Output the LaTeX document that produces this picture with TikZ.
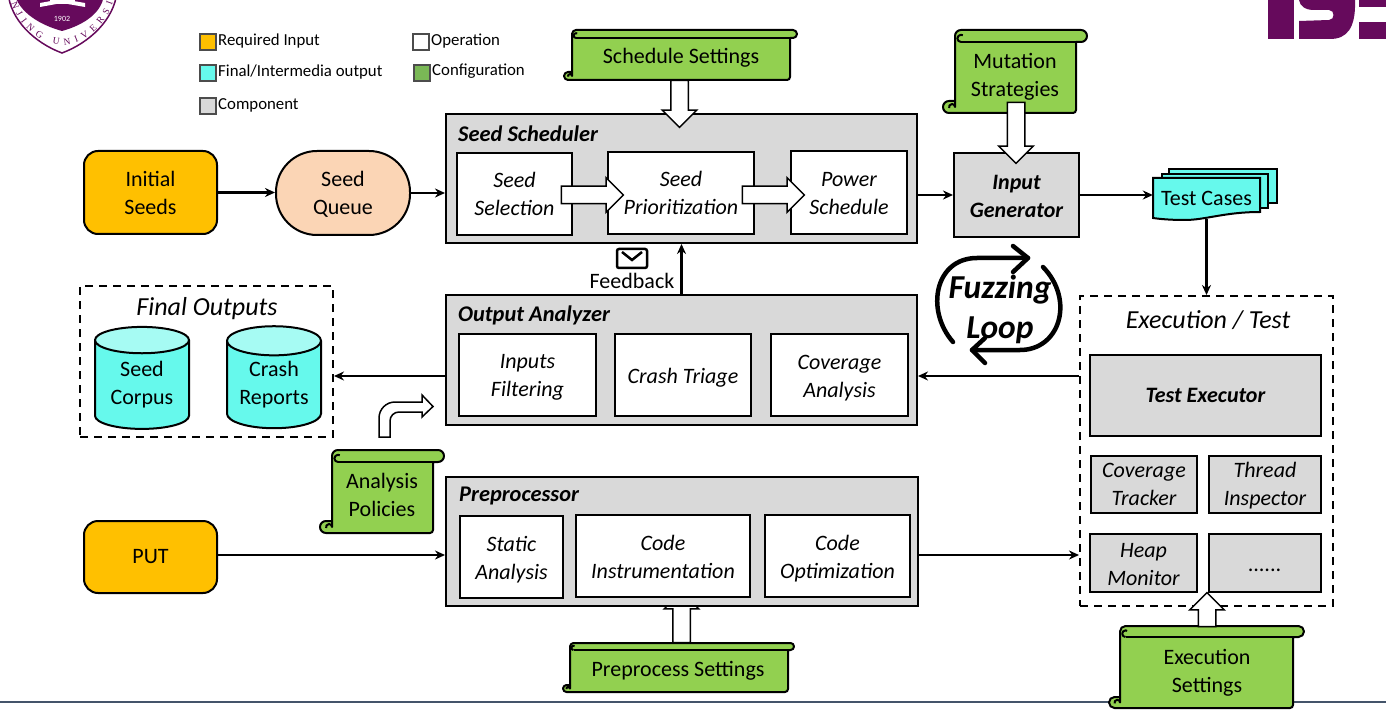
\documentclass[tikz,border=0pt]{standalone}
\usepackage{fontspec}
\setmainfont{Carlito}
\newfontfamily\crestfont{Liberation Serif}
\usetikzlibrary{shapes.geometric, shapes.arrows, arrows.meta, calc, decorations.text}

\definecolor{reqorange}{HTML}{FFC000}
\definecolor{outcyan}{HTML}{66F9EC}
\definecolor{endcyan}{HTML}{A6FBF3}
\definecolor{compgray}{HTML}{D9D9D9}
\definecolor{confgreen}{HTML}{92D050}
\definecolor{legendgreen}{HTML}{7AB856}
\definecolor{queuepeach}{HTML}{FBD5B5}
\definecolor{crest}{HTML}{660A5C}
\definecolor{footline}{HTML}{44546A}

\newcommand{\lab}{\fontsize{22}{28}\selectfont}
\newcommand{\dn}[1]{\rule{0pt}{#1pt}}
\tikzset{
  inputbox/.style={draw, line width=2pt, fill=reqorange, rounded corners=14pt, inner sep=0pt, align=center, font=\lab},
  compbox/.style={draw, line width=2pt, fill=compgray, inner sep=0pt, align=center, font=\lab\bfseries\itshape},
  opbox/.style={draw, line width=2pt, fill=white, inner sep=0pt, align=center, font=\lab\itshape},
  dashbox/.style={draw, line width=2pt, dash pattern=on 8pt off 6pt, inner sep=0pt},
  titlelab/.style={anchor=west, inner sep=0pt, font=\fontsize{22.4}{24}\selectfont\bfseries\itshape},
  biglab/.style={inner sep=0pt, font=\fontsize{26}{30}\selectfont\itshape},
  plainlab/.style={inner sep=0pt, align=center, font=\lab},
  dataflow/.style={line width=2.4pt, -{Stealth[length=10pt, width=9pt]}},
  blockarr/.style={draw, line width=1.5pt, fill=white, single arrow, single arrow head indent=0pt, inner xsep=0pt, inner ysep=8pt, outer sep=0pt, single arrow head extend=8.5pt},
  blockarrup/.style={blockarr, inner xsep=8pt, inner ysep=0pt},
  storage/.style={draw, line width=2pt, cylinder, shape border rotate=90, aspect=0.42, cylinder uses custom fill, cylinder body fill=outcyan, cylinder end fill=endcyan, minimum width=94pt, minimum height=102pt, inner sep=0pt, align=center, font=\lab},
  legendtag/.style={draw=black!70, line width=1.5pt, minimum size=16pt, inner sep=0pt},
  legendlab/.style={anchor=west, inner sep=0pt, font=\fontsize{16.8}{18}\selectfont},
  loopline/.style={line width=4.5pt, line cap=round, line join=round},
  scrollline/.style={line width=2pt, line join=round},
}

% x left, y top, x right, y bottom, roll height, roll right end
\newcommand{\confscroll}[6]{
  \pgfmathsetmacro{\rr}{#5/2}
  \pgfmathsetmacro{\cx}{#1-\rr}
  \filldraw[scrollline, fill=confgreen] ({#1+\rr},#2) -- ({#6-\rr},#2) arc (-90:90:\rr) -- (#3,{#2+#5}) -- (#3,{#4-3}) arc (0:90:3) -- (\cx,#4) arc (90:270:\rr) -- (#1,{#4-#5}) -- (#1,{#2+\rr}) arc (180:270:\rr) -- cycle;
  \draw[scrollline] ({#1+\rr},{#2+#5}) -- (#3,{#2+#5});
  \draw[scrollline] ({#1+\rr},{#2+#5}) arc (90:300:{\rr*0.6});
  \draw[scrollline] (#1,{#4-#5}) -- (#1,{#4-\rr}) arc (0:-200:{\rr*0.5});
}

\begin{document}
\begin{tikzpicture}[x=1pt, y=-1pt]
  \clip (0,0) rectangle (1386,711);
  \fill[white] (0,0) rectangle (1386,711);

  % crest and logo, cut by the page
  \filldraw[draw=crest, line width=1.5pt, fill=white] (8,-8) .. controls (10,20) and (35,43) .. (62,53) .. controls (89,43) and (114,20) .. (117,-8) -- cycle;
  \fill[crest] (14,-8) .. controls (18,12) and (40,25) .. (62,31) .. controls (84,25) and (104,12) .. (104,-8) -- cycle;
  \fill[white] (40,7) -- (62,3) -- (85,7) -- (85,3) -- (62,-1) -- (40,3) -- cycle;
  \fill[white] (50,0) rectangle (75,4);
  \node[inner sep=0pt, text=white, font=\fontsize{8}{9}\selectfont] (crestyear) at (62,19) {1902};
  \path[decorate, decoration={text along path, text color=crest, text align={fit to path}, text={|\crestfont\fontsize{9.5}{10}\selectfont|NJING UNIVERSI}}] (11,3) .. controls (20,28) and (42,45) .. (62,45) .. controls (80,45) and (104,30) .. (113,3);

  \fill[crest] (1268,0) rectangle (1294,39);
  \fill[crest] (1299,0) .. controls (1300,6) and (1305,10) .. (1314,10) -- (1329,10) .. controls (1335,10) and (1335,20) .. (1329,20) -- (1299,21) -- (1299,39) -- (1330,39) .. controls (1347,39) and (1356,28) .. (1355,0) -- cycle;
  \fill[crest] (1359,0) rectangle (1386,7);
  \fill[crest] (1359,22) rectangle (1386,39);

  \draw[footline, line width=2.5pt] (0,702) -- (1386,702);

  % legend
  \foreach \px/\py/\ty/\tagcol/\tagtext/\tagname in {
      208/42/41/reqorange/{Required Input}/req,
      208/73/72/outcyan/{Final/Intermedia output}/out,
      208/106/105/compgray/{Component}/comp,
      421/42/41/white/{Operation}/op,
      422/73/71/legendgreen/{Configuration}/conf}{
    \node[legendtag, fill=\tagcol] (tag\tagname) at (\px,\py) {};
    \node[legendlab] (lab\tagname) at (\px+10,\ty) {\tagtext};
  }

  % top row
  \node[inputbox, minimum width=133pt, minimum height=83pt] (nInit) at (150.5,192.5) {Initial\\Seeds};
  \node[draw, line width=2pt, fill=queuepeach, rounded corners=41pt, minimum width=134pt, minimum height=84pt, inner sep=0pt, align=center, font=\lab] (nQueue) at (343,193) {\dn{18}Seed\\Queue};
  \node[compbox, minimum width=471pt, minimum height=129pt] (nSched) at (681.5,178.5) {};
  \node[titlelab] (tSched) at (458,133.5) {Seed Scheduler};
  \node[opbox, minimum width=115pt, minimum height=82pt] (nSelect) at (514.5,194) {Seed\\Selection};
  \node[opbox, minimum width=146pt, minimum height=82pt] (nPrior) at (681,193) {Seed\\Prioritization};
  \node[opbox, minimum width=116pt, minimum height=83pt] (nPower) at (849,192.5) {\dn{17}Power\\Schedule};
  \node[compbox, minimum width=125pt, minimum height=84pt] (nInput) at (1016.5,195) {\dn{18}Input\\Generator};

  \confscroll{572}{30}{790}{80}{8}{797}
  \node[plainlab] (nSchedSet) at (681,58) {Schedule Settings};
  \confscroll{955}{30}{1076}{113}{12}{1087}
  \node[plainlab] (nMutate) at (1015,77) {Mutation\\Strategies};

  \node[blockarrup, shape border rotate=270, minimum height=47pt] (aSchedSet) at (679.5,99.5) {};
  \node[blockarrup, shape border rotate=270, minimum height=61pt] (aMutate) at (1016,128.5) {};
  \node[blockarr, minimum height=62pt] (aSelect) at (588,195) {};
  \node[blockarr, minimum height=62pt] (aPrior) at (769,195) {};

  % test cases
  \filldraw[line width=2pt, fill=outcyan] (1169,203) -- (1169,169) -- (1277,169) -- (1277,203) -- cycle;
  \filldraw[line width=2pt, fill=outcyan] (1162,208) -- (1162,174) -- (1268,174) -- (1268,208) -- cycle;
  \filldraw[line width=2pt, fill=outcyan] (1153,218) -- (1153,178) -- (1260,178) -- (1260,212) .. controls (1225,212) and (1205,220) .. (1185,220) .. controls (1170,220) and (1160,219) .. (1153,218) -- cycle;
  \node[inner sep=0pt, minimum width=107pt, minimum height=41pt, font=\lab] (nCases) at (1206.5,198.5) {Test Cases};

  % middle row
  \node[dashbox, minimum width=253pt, minimum height=151pt] (nFinal) at (206.5,361.5) {};
  \node[biglab] (tFinal) at (207,309) {Final Outputs};
  \node[storage] (nCorpus) at (142,385) {Seed\\Corpus};
  \node[storage] (nCrash) at (274,385) {Crash\\Reports};

  \node[compbox, minimum width=471pt, minimum height=130pt] (nAnal) at (681.5,360) {};
  \node[titlelab] (tAnal) at (458,315) {Output Analyzer};
  \node[opbox, minimum width=137pt, minimum height=82pt] (nFilter) at (527.5,375) {\dn{19}Inputs\\Filtering};
  \node[opbox, minimum width=136pt, minimum height=82pt] (nTriage) at (683,375) {\dn{20}Crash Triage};
  \node[opbox, minimum width=137pt, minimum height=82pt] (nCover) at (839.5,375) {\dn{21}Coverage\\Analysis};

  \node[dashbox, minimum width=253pt, minimum height=310pt] (nExec) at (1206.5,451) {};
  \node[biglab] (tExec) at (1208,320) {Execution / Test};
  \node[compbox, minimum width=231pt, minimum height=81pt] (nTest) at (1205.5,395.5) {Test Executor};
  \node[compbox, font=\lab\itshape, minimum width=106pt, minimum height=57pt] (nTrack) at (1144,484.5) {Coverage\\Tracker};
  \node[compbox, font=\lab\itshape, minimum width=112pt, minimum height=57pt] (nThread) at (1265,484.5) {\dn{18}Thread\\Inspector};
  \node[compbox, font=\lab\itshape, minimum width=107pt, minimum height=58pt] (nHeap) at (1143.5,563) {\dn{18}Heap\\Monitor};
  \node[compbox, font=\lab\itshape, minimum width=112pt, minimum height=58pt] (nMore) at (1265,563) {\dn{18}......};

  % feedback
  \draw[line width=2.5pt, rounded corners=2pt] (617,249) rectangle (647,268);
  \draw[line width=2.5pt] (622,252) -- (632,260) -- (642,252);
  \node[plainlab] (tFeed) at (632,281) {Feedback};

  % fuzzing loop
  \draw[loopline] (953,342) .. controls (925,310) and (935,258) .. (977,258) -- (1028,258);
  \draw[loopline] (1013,246) -- (1028,258) -- (1013,272);
  \draw[loopline] (1043,267) .. controls (1075,300) and (1060,350) .. (1020,350) -- (972,350);
  \draw[loopline] (985,338) -- (972,350) -- (985,363);
  \node[inner sep=0pt, align=center, font=\fontsize{33.5}{40}\selectfont\bfseries\itshape] (tLoop) at (1000,309) {Fuzzing\\Loop};

  % analysis policies
  \filldraw[line width=1.5pt, fill=white] (379,437) -- (379,418) arc (180:270:16) -- (422,402) -- (422,395) -- (433,406.5) -- (422,417) -- (422,412) -- (399,412) arc (270:180:9) -- (390,437) -- cycle;
  \confscroll{332}{450}{433}{533}{12}{444}
  \node[plainlab] (nPolicy) at (382,495) {Analysis\\Policies};

  % bottom row
  \node[blockarrup, shape border rotate=90, minimum height=51pt] (aPrep) at (681.5,621.5) {};
  \node[inputbox, minimum width=133pt, minimum height=72pt] (nPut) at (150.5,557) {PUT};
  \node[compbox, minimum width=472pt, minimum height=129pt] (nPrep) at (682,541.5) {};
  \node[titlelab] (tPrep) at (459,496) {Preprocessor};
  \node[opbox, minimum width=103pt, minimum height=82pt] (nStatic) at (511.5,557) {\dn{20}Static\\Analysis};
  \node[opbox, minimum width=174pt, minimum height=82pt] (nInstr) at (663,556) {\dn{18}Code\\Instrumentation};
  \node[opbox, minimum width=145pt, minimum height=82pt] (nOptim) at (837.5,556) {\dn{20}Code\\Optimization};

  \confscroll{570}{643}{788}{692}{7}{794}
  \node[plainlab] (nPrepSet) at (678,671) {Preprocess Settings};
  \confscroll{1120}{626}{1293}{708}{11}{1304}
  \node[plainlab] (nExecSet) at (1207,673) {Execution\\Settings};
  \node[blockarrup, shape border rotate=90, minimum height=34pt] (aExecSet) at (1207,614) {};

  % data flow
  \coordinate (yAnal) at (0,376);
  \coordinate (yPut) at (0,555);
  \draw[dataflow] (nInit.east) -- (nInit.east -| nQueue.west);
  \draw[dataflow] (nQueue.east) -- (nQueue.east -| nSched.west);
  \draw[dataflow] (nSched.east |- nInput.west) -- (nInput.west);
  \draw[dataflow] (nInput.east) -- (nInput.east -| nCases.west);
  \draw[dataflow] (nCases.south) -- (nCases.south |- nExec.north);
  \draw[dataflow] (nExec.west |- yAnal) -- (nAnal.east |- yAnal);
  \draw[dataflow] (nAnal.west |- yAnal) -- (nFinal.east |- yAnal);
  \draw[dataflow] (nAnal.north) -- (nSched.south);
  \draw[dataflow] (nPut.east |- yPut) -- (nPrep.west |- yPut);
  \draw[dataflow] (nPrep.east |- yPut) -- (nExec.west |- yPut);
\end{tikzpicture}
\end{document}
